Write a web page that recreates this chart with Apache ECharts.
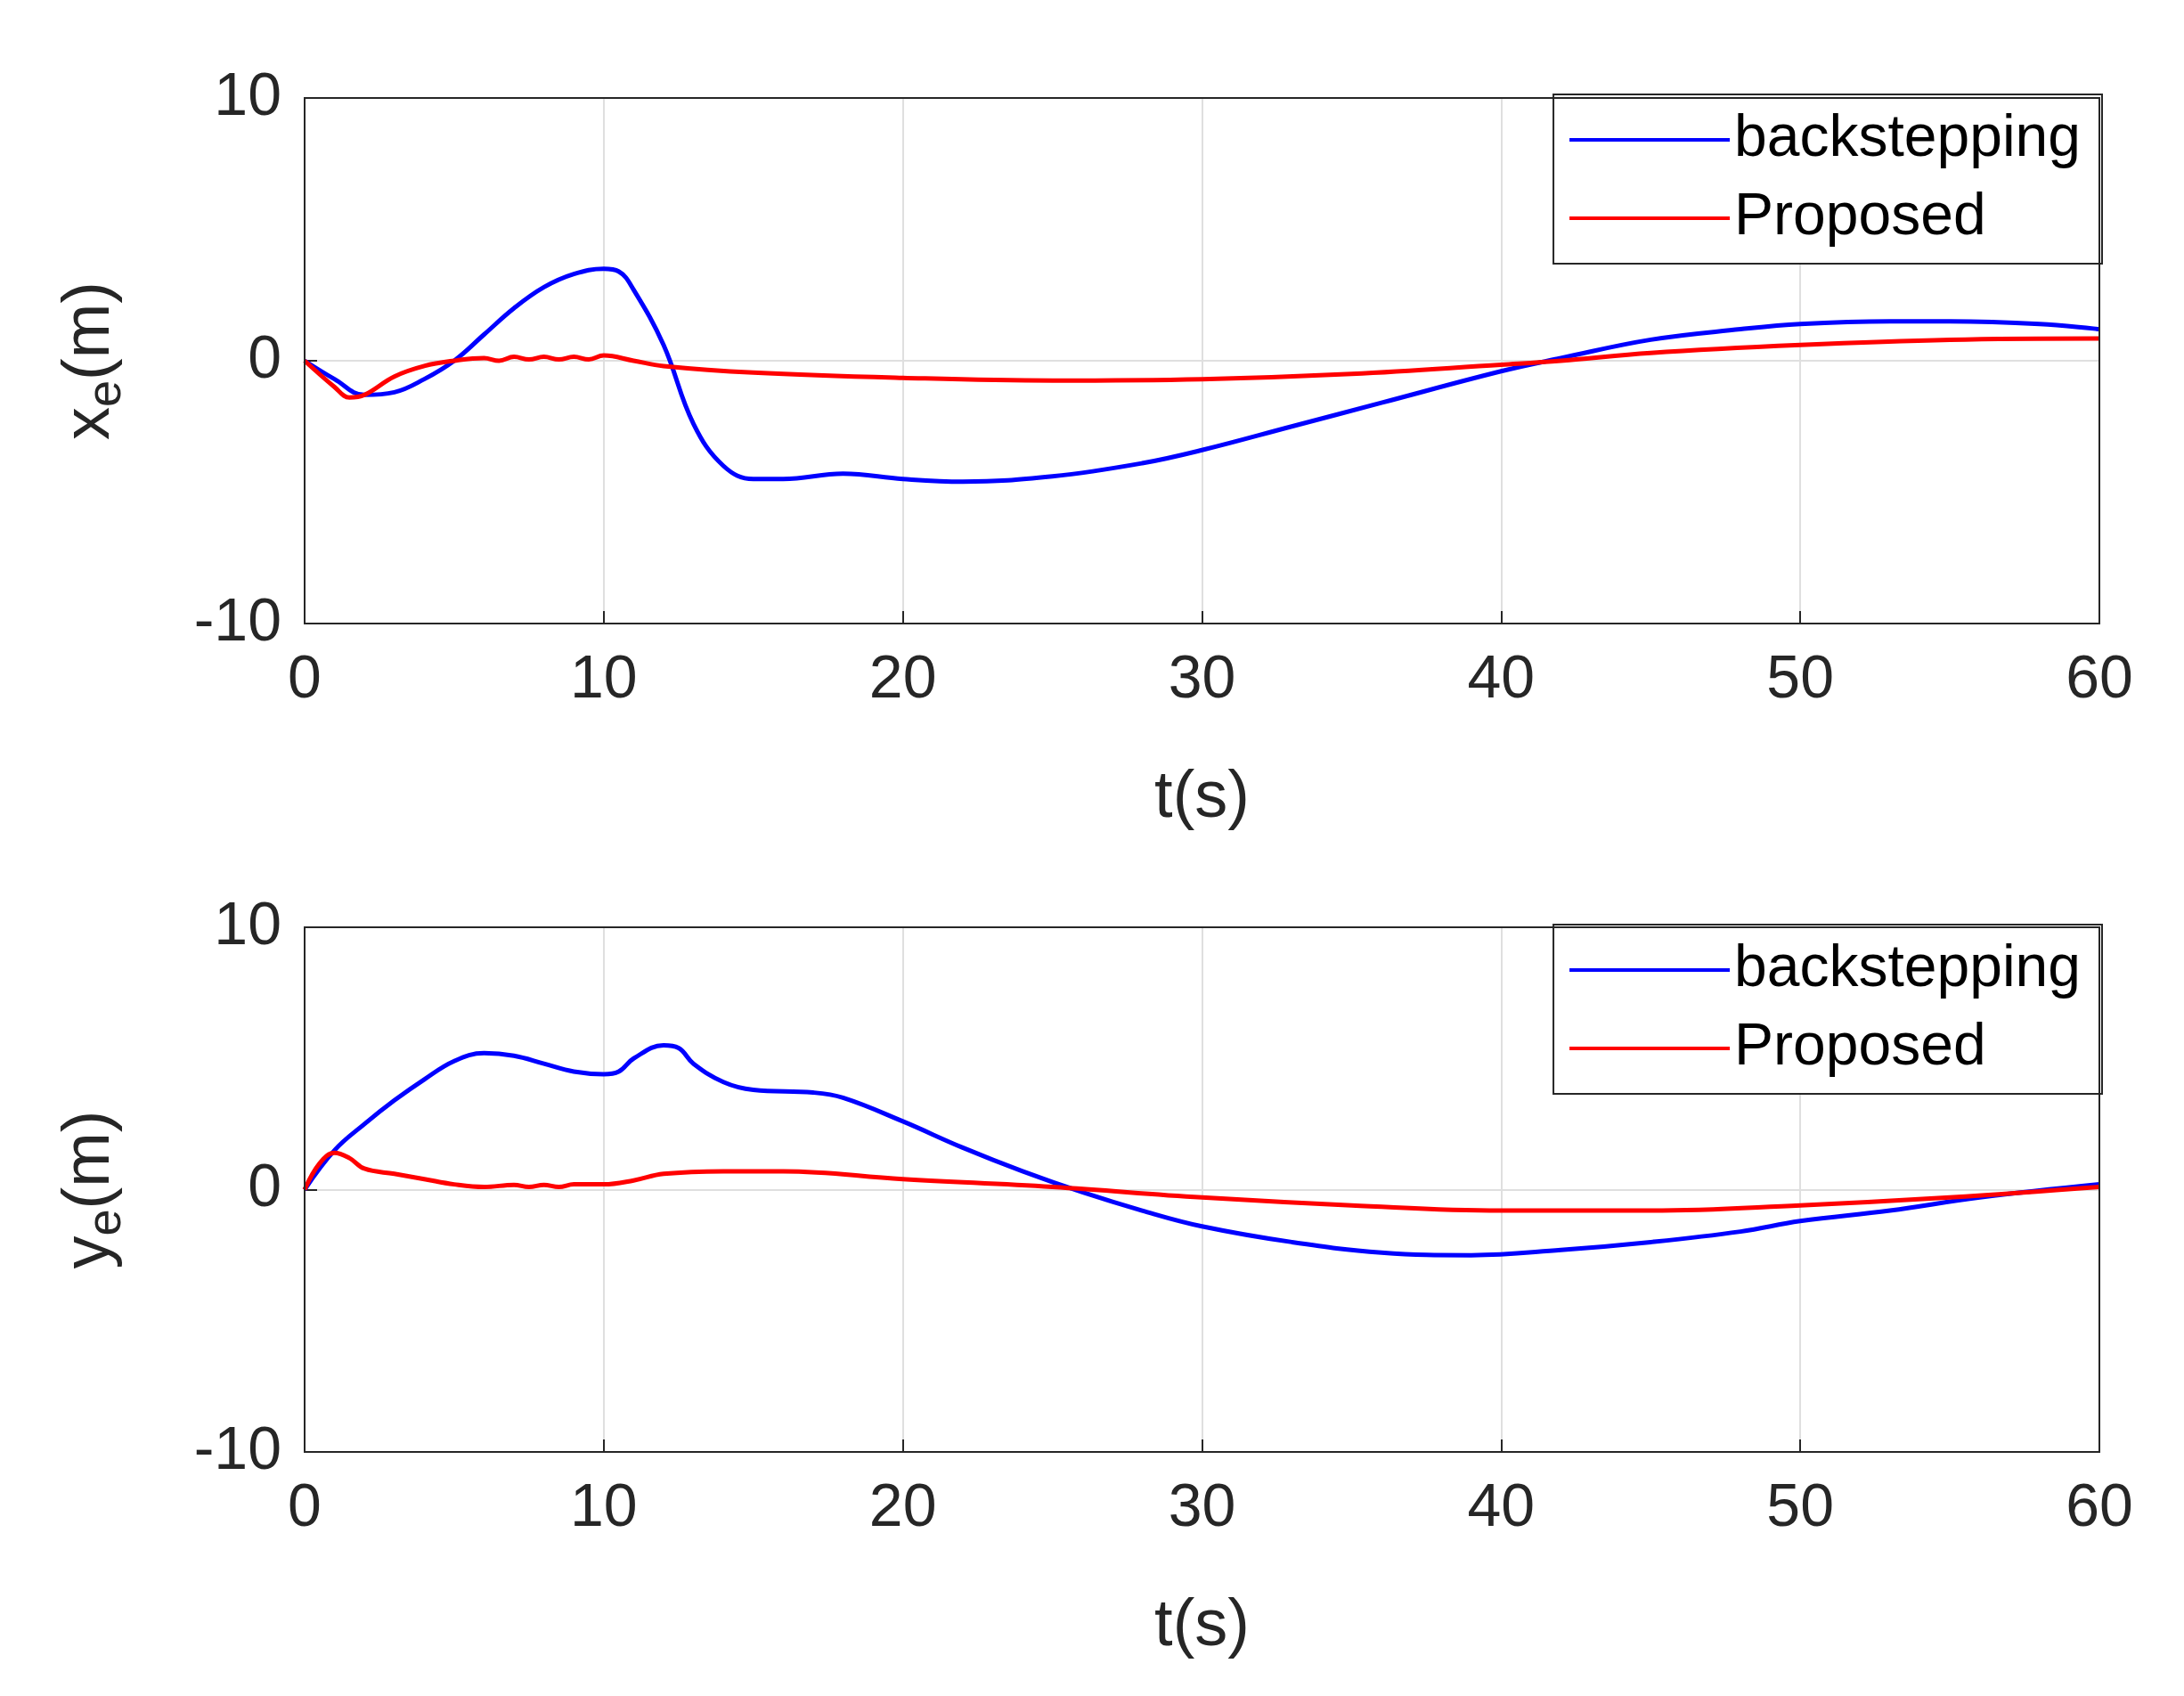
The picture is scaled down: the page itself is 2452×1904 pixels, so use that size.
<!DOCTYPE html>
<html><head><meta charset="utf-8">
<script src="https://cdn.jsdelivr.net/npm/echarts@6/dist/echarts.min.js"></script>
<style>html,body{margin:0;background:#fff}#c{width:2452px;height:1904px}</style>
</head><body><div id="c"></div>
<script>
// 上图 xe 数据 [t, value]
var xeBack = [[0,0],[1,-0.7],[2,-1.3],[3,-1.2],[4,-0.7],[5,0],[6,1.0],[7,2.0],[8,2.8],[9,3.3],[10,3.5],[10.5,3.4],[11,2.7],[12,0.6],[13,-2.4],[14,-4.0],[15,-4.5],[16,-4.5],[18,-4.3],[20,-4.5],[22,-4.6],[25,-4.4],[28,-3.9],[30,-3.4],[33,-2.5],[36,-1.6],[40,-0.4],[42,0.1],[45,0.8],[48,1.2],[50,1.4],[53,1.5],[55,1.5],[58,1.4],[60,1.2]];
var xeProp = [[0,0],[1,-1.0],[1.5,-1.4],[2,-1.3],[3,-0.6],[4,-0.2],[5,0],[6,0.1],[6.5,0],[7,0.15],[7.5,0.05],[8,0.15],[8.5,0.05],[9,0.15],[9.5,0.05],[10,0.2],[11,0],[12,-0.2],[15,-0.45],[20,-0.65],[25,-0.75],[30,-0.7],[35,-0.5],[40,-0.15],[42,0],[45,0.3],[50,0.6],[55,0.8],[60,0.85]];
// 下图 ye 数据
var yeBack = [[0,0],[1,1.5],[2,2.5],[3,3.4],[4,4.2],[5,4.9],[6,5.2],[7,5.1],[8,4.8],[9,4.5],[10,4.4],[10.5,4.5],[11,5.0],[12,5.5],[12.5,5.4],[13,4.8],[14,4.1],[15,3.8],[17,3.7],[18,3.5],[20,2.6],[22,1.6],[24,0.7],[26,-0.1],[28,-0.8],[30,-1.4],[33,-2.0],[36,-2.4],[39,-2.5],[42,-2.3],[45,-2.0],[48,-1.6],[50,-1.2],[53,-0.8],[56,-0.3],[60,0.2]];
var yeProp = [[0,0],[0.5,1.0],[1,1.4],[1.5,1.2],[2,0.8],[3,0.6],[4,0.4],[5,0.2],[6,0.1],[7,0.18],[7.5,0.1],[8,0.18],[8.5,0.1],[9,0.2],[10,0.2],[11,0.35],[12,0.6],[14,0.7],[16,0.7],[20,0.4],[25,0.1],[30,-0.3],[35,-0.6],[40,-0.8],[45,-0.8],[50,-0.6],[55,-0.3],[60,0.1]];
var legendNames = ['backstepping', 'Proposed'];

var FONT = 'Liberation Sans';
var grids = [
  {left: 342, width: 2015, top: 110, height: 590},
  {left: 342, width: 2015, top: 1041, height: 589}
];
function xAx(i) {
  return {gridIndex: i, type: 'value', min: 0, max: 60, interval: 10,
    name: 't(s)', nameLocation: 'middle', nameGap: 160,
    nameTextStyle: {fontFamily: FONT, fontSize: 74, color: '#262626'},
    axisLine: {onZero: false, lineStyle: {color: '#262626', width: 2}},
    axisTick: {inside: true, length: 14, lineStyle: {color: '#262626', width: 2}},
    axisLabel: {fontFamily: FONT, fontSize: 68, color: '#262626', margin: 30},
    splitLine: {show: true, lineStyle: {color: '#dfdfdf', width: 2}}};
}
function yAx(i, v) {
  return {gridIndex: i, type: 'value', min: -10, max: 10, interval: 10,
    name: '{a|' + v + '}{s|e}{a|(m)}', nameLocation: 'middle', nameGap: 195,
    nameTextStyle: {rich: {a: {fontFamily: FONT, fontSize: 74, color: '#262626'},
      s: {fontFamily: FONT, fontSize: 54, color: '#262626', verticalAlign: 'bottom', padding: [36,0,0,0]}}},
    axisLine: {onZero: false, lineStyle: {color: '#262626', width: 2}},
    axisTick: {inside: true, length: 14, lineStyle: {color: '#262626', width: 2}},
    axisLabel: {fontFamily: FONT, fontSize: 68, color: '#262626', margin: 26},
    splitLine: {show: true, lineStyle: {color: '#dfdfdf', width: 2}}};
}
function legend(top) {
  return {right: 92, top: top, orient: 'vertical', itemWidth: 180, itemHeight: 4, itemGap: 22,
    borderColor: '#262626', borderWidth: 2, padding: [18, 24, 18, 18], backgroundColor: '#fff',
    icon: 'rect', textStyle: {fontFamily: FONT, fontSize: 66, color: '#000'}, data: legendNames};
}
function line(name, data, color, i) {
  return {name: name, type: 'line', xAxisIndex: i, yAxisIndex: i, data: data, smooth: 0.4,
    showSymbol: false, lineStyle: {color: color, width: 5}, itemStyle: {color: color}};
}
var chart = echarts.init(document.getElementById('c'));
chart.setOption({
  animation: false,
  grid: grids,
  legend: [legend(106), legend(1038)],
  xAxis: [xAx(0), xAx(1)],
  yAxis: [yAx(0, 'x'), yAx(1, 'y')],
  series: [
    line('backstepping', xeBack, '#0000ff', 0),
    line('Proposed', xeProp, '#ff0000', 0),
    line('backstepping', yeBack, '#0000ff', 1),
    line('Proposed', yeProp, '#ff0000', 1)
  ]
});
// 补上右侧和顶部边框
chart.setOption({graphic: grids.map(function (g) {
  return {type: 'rect', shape: {x: g.left, y: g.top, width: g.width, height: g.height},
    style: {fill: 'none', stroke: '#262626', lineWidth: 2}, silent: true, z: 10};
})});
</script></body></html>
